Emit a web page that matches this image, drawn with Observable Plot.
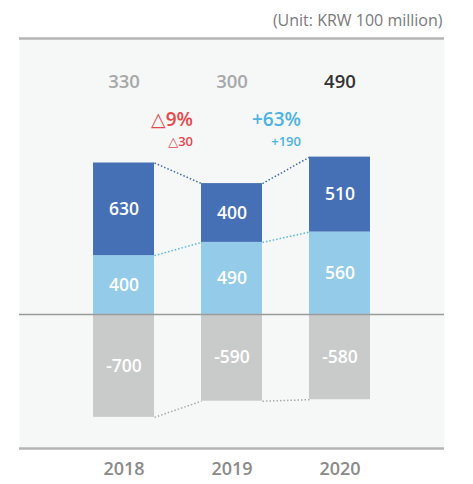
<!DOCTYPE html>
<html>
<head>
<meta charset="utf-8">
<script src="https://cdn.jsdelivr.net/npm/d3@7"></script>
<script src="https://cdn.jsdelivr.net/npm/@observablehq/plot@0.6"></script>
<style>
  html, body { margin: 0; padding: 0; background: #fff; }
  svg { display: block; }
</style>
</head>
<body>
<div id="chart"></div>
<script>
const years = [2018, 2019, 2020];
const upperValues = [630, 400, 510];   // dark blue segment
const lowerValues = [400, 490, 560];   // light blue segment
const negativeValues = [-700, -590, -580]; // gray segment
const totals = [330, 300, 490];
const changePct = ["△9%", "+63%"];
const changeAbs = ["△30", "+190"];
const changeColors = ["#e8464a", "#4cb3e2"];
const unitLabel = "(Unit: KRW 100 million)";

const halfW = 0.2824;
const font = "'Open Sans', 'DejaVu Sans', sans-serif";

const rows = years.map((year, i) => ({
  year,
  up: upperValues[i],
  low: lowerValues[i],
  neg: negativeValues[i],
  total: totals[i]
}));

const segments = [];
rows.forEach(r => {
  segments.push({year: r.year, y1: 0, y2: r.low, value: r.low, kind: "low"});
  segments.push({year: r.year, y1: r.low, y2: r.low + r.up, value: r.up, kind: "up"});
  segments.push({year: r.year, y1: r.neg, y2: 0, value: r.neg, kind: "neg"});
});

const fills = {low: "#93cbe8", up: "#4670b5", neg: "#c9caca"};

const links = [];
for (let i = 0; i < rows.length - 1; i++) {
  const a = rows[i], b = rows[i + 1];
  links.push({x1: a.year + halfW, x2: b.year - halfW, y1: a.low + a.up, y2: b.low + b.up, c: "#3d6bb3"});
  links.push({x1: a.year + halfW, x2: b.year - halfW, y1: a.low, y2: b.low, c: "#5cb9e4"});
  links.push({x1: a.year + halfW, x2: b.year - halfW, y1: a.neg, y2: b.neg, c: "#a9aaaa"});
}

const changes = changePct.map((p, i) => ({
  x: (years[i] + years[i + 1]) / 2, pct: p, abs: changeAbs[i], color: changeColors[i]
}));

const yMin = -905, yMax = 1870;

const chart = Plot.plot({
  width: 473,
  height: 484,
  marginLeft: 19,
  marginRight: 29,
  marginTop: 39,
  marginBottom: 37,
  style: {fontFamily: font, background: "#ffffff"},
  x: {type: "linear", domain: [2017.032, 2020.968], axis: null},
  y: {domain: [yMin, yMax], axis: null},
  marks: [
    Plot.frame({fill: "#f6f7f7", stroke: "none"}),
    Plot.ruleY([yMax], {stroke: "#b5b5b5", strokeWidth: 2.5, dy: -1}),
    Plot.ruleY([yMin], {stroke: "#b5b5b5", strokeWidth: 2.5, dy: 1}),
    Plot.link(links, {x1: "x1", x2: "x2", y1: "y1", y2: "y2", stroke: "c", strokeWidth: 1.5, strokeDasharray: "1.5,2"}),
    Plot.rect(segments, {
      x1: d => d.year - halfW, x2: d => d.year + halfW,
      y1: "y1", y2: "y2", fill: d => fills[d.kind]
    }),
    Plot.ruleY([0], {stroke: "#9a9a9a", strokeWidth: 1.5}),
    Plot.text(segments, {
      x: "year", y: d => (d.y1 + d.y2) / 2, text: d => String(d.value),
      fill: "#ffffff", fontSize: 17.5, fontWeight: 600, lineAnchor: "middle"
    }),
    Plot.text(rows, {
      x: "year", frameAnchor: "top", dy: 43, text: d => String(d.total),
      fill: (d, i) => i === rows.length - 1 ? "#333333" : "#a8a8a8",
      fontSize: 18.5, fontWeight: 600, lineAnchor: "middle"
    }),
    Plot.text(changes, {
      x: "x", frameAnchor: "top", dy: 80, dx: 15, text: "pct", fill: "color",
      fontSize: 19, fontWeight: 600, textAnchor: "end", lineAnchor: "middle"
    }),
    Plot.text(changes, {
      x: "x", frameAnchor: "top", dy: 102, dx: 15, text: "abs", fill: "color",
      fontSize: 13, fontWeight: 600, textAnchor: "end", lineAnchor: "middle"
    }),
    Plot.axisX(years, {
      tickSize: 0, tickPadding: 15, tickFormat: d => String(d),
      fontSize: 18, fontWeight: 600, color: "#8a8a8a"
    }),
    Plot.text([unitLabel], {
      frameAnchor: "top-right", dx: -2, dy: -19, text: d => d,
      fill: "#7a7a7a", fontSize: 16, fontWeight: 400, textAnchor: "end", lineAnchor: "middle"
    })
  ]
});

document.getElementById("chart").appendChild(chart);
</script>
</body>
</html>
